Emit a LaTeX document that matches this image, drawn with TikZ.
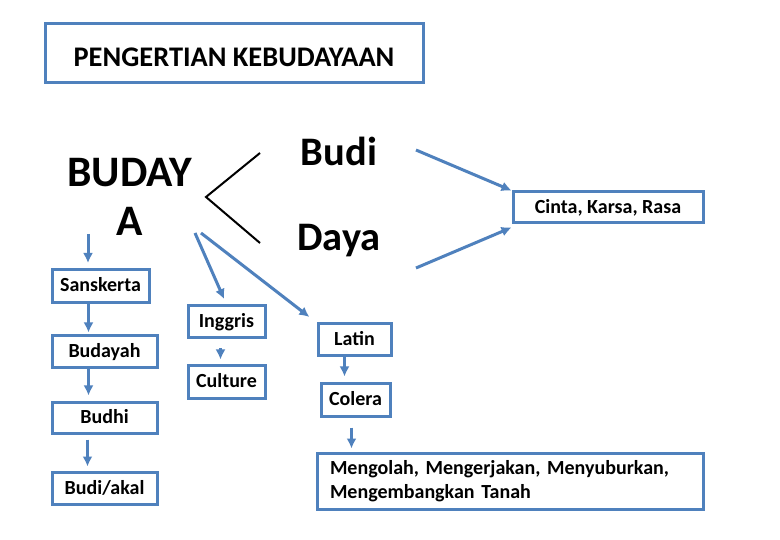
\documentclass[tikz,border=0pt]{standalone}
\usepackage{fontspec}
\setmainfont{Carlito}
\usepackage{xcolor}
\usetikzlibrary{arrows.meta}
\definecolor{boxblue}{HTML}{4F81BD}
\frenchspacing

\begin{document}
\begin{tikzpicture}[x=1pt,y=-1pt,
    frame/.style={draw=boxblue,line width=3pt,inner sep=0pt},
    box/.style={frame,align=center,text height=13pt,text depth=1pt,font=\bfseries\fontsize{20}{22}\selectfont},
    arr/.style={draw=boxblue,line width=3pt,-{Latex[length=10pt,width=10pt]}},
    big/.style={inner sep=0pt,align=center,font=\bfseries\fontsize{40.5}{49}\selectfont}]
    \useasboundingbox[fill=white] (0,0) rectangle (780,540);
    % title and the word itself
    \node[frame,font=\bfseries\fontsize{28.4}{30}\selectfont,text height=27pt,text depth=0pt,minimum width=378pt,minimum height=59pt] (title) at (234,53.5) {PENGERTIAN KEBUDAYAAN};
    \node[big,font=\bfseries\fontsize{43.5}{49}\selectfont] (budaya) at (129.5,197) {BUDAY\\A};
    \node[big] (budi) at (339,151) {Budi};
    \node[big] (daya) at (339,241) {Daya};
    \node[box,minimum width=190pt,minimum height=31pt] (cinta) at (608,207.5) {Cinta, Karsa, Rasa};
    % Sanskerta column
    \node[box,minimum width=97pt,minimum height=33pt] (sansk) at (100.5,286) {Sanskerta};
    \node[box,minimum width=105pt,minimum height=32pt] (budayah) at (104.5,352) {Budayah};
    \node[box,minimum width=105pt,minimum height=31pt] (budhi) at (104.5,417.5) {Budhi};
    \node[box,minimum width=105pt,minimum height=32pt] (akal) at (104.5,488) {Budi/akal};
    % Inggris and Latin columns
    \node[box,minimum width=77pt,minimum height=32pt] (inggris) at (226.5,322) {Inggris};
    \node[box,minimum width=77pt,minimum height=32pt] (culture) at (226.5,382) {Culture};
    \node[box,minimum width=73pt,minimum height=32pt] (latin) at (354.5,340) {Latin};
    \node[box,minimum width=69pt,minimum height=32pt] (colera) at (355.5,400) {Colera};
    \node[frame,font=\bfseries\fontsize{20}{23.5}\selectfont,minimum width=386pt,minimum height=56pt,text width=360pt,align=left] (olah) at (510,481) {Mengolah, Mengerjakan, Menyuburkan,\\Mengembangkan Tanah};
    % free ends
    \coordinate (forkU) at (260,153);
    \coordinate (fork) at (206,197);
    \coordinate (forkD) at (260,243);
    \coordinate (tS) at (88,234);
    \coordinate (tI) at (195,233);
    \coordinate (tL) at (201,233);
    \coordinate (tBudi) at (416,150);
    \coordinate (tDaya) at (416,268);
    \coordinate (tC) at ([xshift=-4pt]colera.south);
    \draw[line width=2pt] (forkU) -- (fork) -- (forkD);
    \draw[arr,shorten >=5pt] (tS) -- (tS |- sansk.north);
    \draw[arr,shorten >=6pt] (tI) -- (inggris.north);
    \draw[arr,shorten >=9pt] (tL) -- (latin.north west);
    \draw[arr] (tBudi) -- (cinta.north west);
    \draw[arr] (tDaya) -- ([yshift=-3pt]cinta.south west);
    \draw[arr,shorten >=2pt] ([xshift=-12pt]sansk.south) -- ([xshift=-16pt]budayah.north);
    \draw[arr,shorten >=5pt] ([xshift=-16pt]budayah.south) -- ([xshift=-16pt]budhi.north);
    \draw[arr,shorten <=5pt,shorten >=4pt] ([xshift=-17pt]budhi.south) -- ([xshift=-17pt]akal.north);
    \draw[arr,shorten <=9pt,shorten >=5pt] ([xshift=-6pt]inggris.south) -- ([xshift=-6pt]culture.north);
    \draw[arr,shorten >=6pt] ([xshift=-10pt]latin.south) -- ([xshift=-11pt]colera.north);
    \draw[arr,shorten <=10pt,shorten >=3pt] (tC) -- (tC |- olah.north);
\end{tikzpicture}
\end{document}
